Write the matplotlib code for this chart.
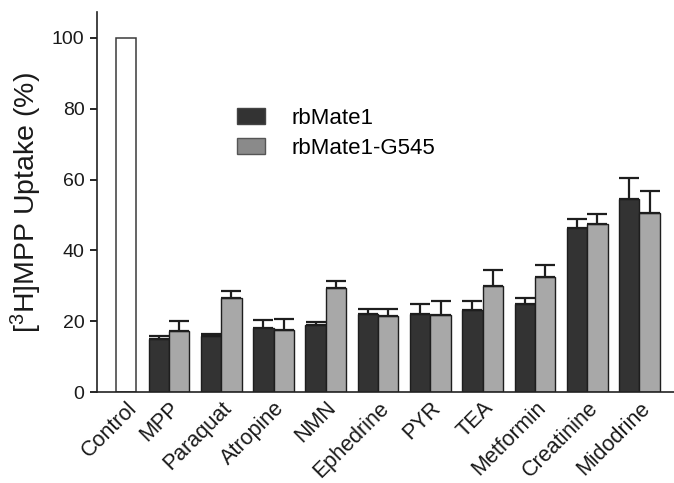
import matplotlib
matplotlib.use("Agg")
import matplotlib.pyplot as plt
from matplotlib.patches import Patch

plt.rcParams['font.family'] = ['Liberation Sans', 'DejaVu Sans']
plt.rcParams['mathtext.fontset'] = 'custom'
plt.rcParams['mathtext.rm'] = 'Liberation Sans'
plt.rcParams['mathtext.it'] = 'Liberation Sans'
plt.rcParams['mathtext.default'] = 'regular'

categories = ["MPP", "Paraquat", "Atropine", "NMN", "Ephedrine", "PYR", "TEA",
              "Metformin", "Creatinine", "Midodrine"]
control_value = 100
wt_values = [14.9, 15.8, 18.1, 18.9, 21.9, 22.1, 23.3, 24.8, 46.3, 54.6]
wt_err = [1.0, 0.7, 2.1, 0.8, 1.5, 2.7, 2.5, 1.8, 2.6, 5.7]
mut_values = [17.1, 26.6, 17.6, 29.3, 21.6, 21.8, 29.9, 32.5, 47.5, 50.6]
mut_err = [3.0, 1.8, 3.0, 2.0, 1.9, 4.0, 4.6, 3.4, 2.8, 6.1]
series_names = ["rbMate1", "rbMate1-G545"]

fig = plt.figure(figsize=(6.74, 4.83), dpi=100)
ax = fig.add_axes([0.1439, 0.1884, 0.8561, 0.7866])

w = 0.39
dark = "#333333"
light = "#a8a8a8"
edge = "#1e1e1e"
ekw = dict(elinewidth=1.6, capthick=1.6, ecolor="#1e1e1e")

xs = [1 + i for i in range(len(categories))]
ctrl_x = 0.18
ax.bar([ctrl_x], [control_value], width=w, color="white", edgecolor="#3a3a3a", linewidth=1.1)
ax.bar([x - w / 2 for x in xs], wt_values, width=w, color=dark, edgecolor=edge, linewidth=1.0,
       yerr=[[0] * len(wt_err), wt_err], capsize=7, error_kw=ekw)
ax.bar([x + w / 2 for x in xs], mut_values, width=w, color=light, edgecolor=edge, linewidth=1.0,
       yerr=[[0] * len(mut_err), mut_err], capsize=7, error_kw=ekw)

ax.set_xlim(-0.377, 10.66)
ax.set_ylim(0, 107.3)
ax.set_xticks([ctrl_x] + xs)
ax.set_xticklabels(["Control"] + categories, rotation=45, ha="right", rotation_mode="anchor",
                   fontsize=15.5, color="#1a1a1a")
ax.tick_params(axis="x", length=0, pad=4)
ax.set_yticks([0, 20, 40, 60, 80, 100])
ax.tick_params(axis="y", labelsize=14, length=5, width=1.2, direction="out", pad=4,
               labelcolor="#1a1a1a")
for s in ["top", "right"]:
    ax.spines[s].set_visible(False)
for s in ["left", "bottom"]:
    ax.spines[s].set_linewidth(1.2)
    ax.spines[s].set_color("#222222")

ax.set_ylabel("[$^{3}$H]MPP Uptake (%)", fontsize=20.5, labelpad=6, color="#1a1a1a")

handles = [Patch(facecolor=dark, edgecolor="#444444"), Patch(facecolor="#8a8a8a", edgecolor="#555555")]
ax.legend(handles, series_names, loc="upper left", bbox_to_anchor=(0.242, 0.748), frameon=False,
          fontsize=16, handlelength=1.26, handleheight=0.7, handletextpad=1.2,
          labelspacing=0.4, borderpad=0, borderaxespad=0)

fig.savefig("out.png", dpi=100)
